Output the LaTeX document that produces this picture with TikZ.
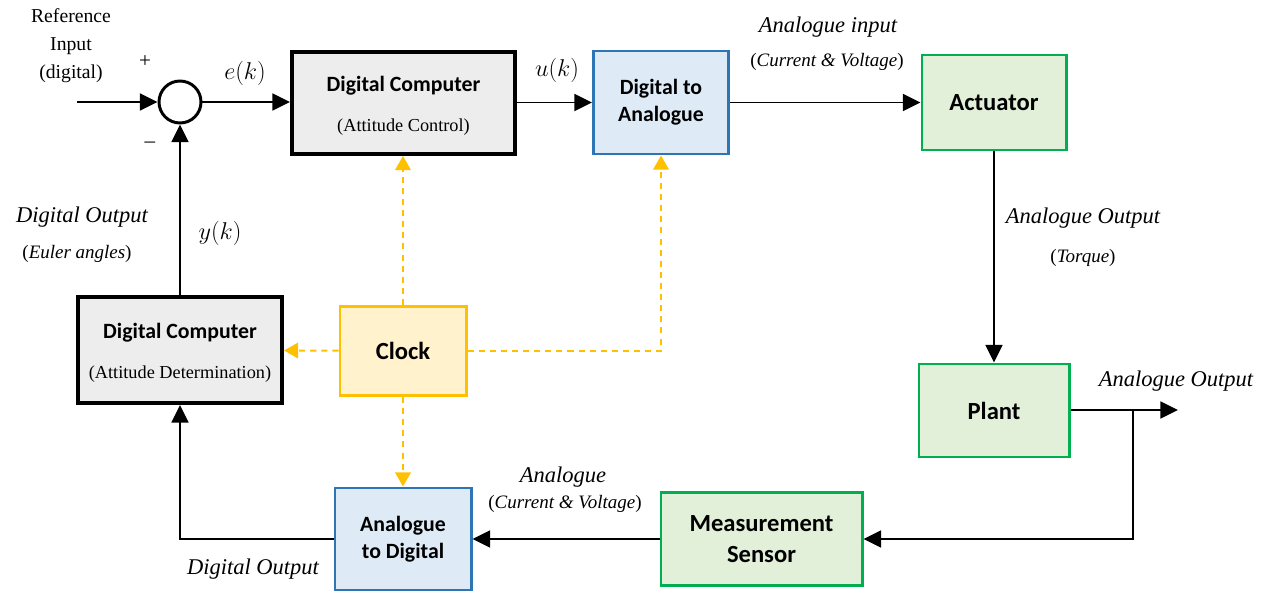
\documentclass[tikz,border=0pt]{standalone}
\usepackage{fontspec}
\setmainfont{Liberation Serif}
\newfontfamily\calfont{Carlito}
\usepackage{xcolor}
\usepackage{tikz}
\usetikzlibrary{shapes,positioning,arrows.meta}
\definecolor{pcfill}{HTML}{EDEDED}
\definecolor{blueline}{HTML}{2E75B6}
\definecolor{bluefill}{HTML}{DEEBF7}
\definecolor{greenline}{HTML}{00B050}
\definecolor{greenfill}{HTML}{E2F0D9}
\definecolor{clkline}{HTML}{FFC000}
\definecolor{clkfill}{HTML}{FFF2CC}
\tikzset{blk/.style={rectangle,draw,align=center,inner sep=0pt,font=\calfont\bfseries\fontsize{15.5}{19}\selectfont},
  pc/.style={blk,fill=pcfill,line width=2.8pt},
  conv/.style={blk,draw=blueline,fill=bluefill,line width=2.1pt},
  phys/.style={blk,draw=greenline,fill=greenfill,line width=2.1pt,font=\calfont\bfseries\fontsize{17.5}{22}\selectfont},
  clk/.style={blk,draw=clkline,fill=clkfill,line width=2.1pt,font=\calfont\bfseries\fontsize{17.5}{22}\selectfont},
  sum/.style={circle,draw,line width=2.1pt,minimum size=1.05cm,inner sep=0pt},
  lbl/.style={inner sep=1pt,align=center,font=\fontsize{16}{19}\selectfont\itshape},
  sml/.style={inner sep=1pt,align=center,font=\fontsize{13.5}{16}\selectfont},
  arr/.style={-{Triangle[length=12.5pt,width=12pt]},line width=1.42pt},
  clkarr/.style={-{Triangle[length=10pt,width=11pt]},draw=clkline,line width=1.42pt,dash pattern=on 4.3pt off 3.6pt}}
\newcommand{\subtxt}[1]{{\normalfont\fontsize{13}{16}\selectfont #1}}

\begin{document}
\begin{tikzpicture}[x=0.025cm,y=-0.025cm]
    \useasboundingbox (0,0) rectangle (1266,591);

    \node[sum] (sum) at (180,102) {};
    \node[pc,minimum width=5.575cm,minimum height=2.55cm] (dcc) at (403.5,103) {\rule{0pt}{15pt}Digital Computer\\[10pt]\subtxt{(Attitude Control)}};
    \node[conv,minimum width=3.375cm,minimum height=2.575cm] (dta) at (661,102.5) {Digital to\\Analogue};
    \node[phys,minimum width=3.6cm,minimum height=2.375cm] (act) at (994,102.5) {Actuator};
    \node[phys,minimum width=3.75cm,minimum height=2.325cm] (plant) at (994,410.5) {Plant};
    \node[phys,minimum width=5.025cm,minimum height=2.325cm] (sens) at (761.5,539) {Measurement\\Sensor};
    \node[conv,minimum width=3.4cm,minimum height=2.55cm] (atd) at (403,539) {Analogue\\to Digital};
    \node[pc,minimum width=5.1cm,minimum height=2.65cm] (dcd) at (180,350) {\rule{0pt}{15pt}Digital Computer\\[10pt]\subtxt{(Attitude Determination)}};
    \node[clk,minimum width=3.15cm,minimum height=2.225cm] (clock) at (403,351) {Clock};

    \coordinate (in) at (77,102);
    \coordinate (out) at (1178,410);
    \coordinate (br) at (1133,410);

    % labels
    \node[align=center,font=\fontsize{14}{20}\selectfont] (ref) at (71,46) {Reference\\Input\\(digital)};
    \node[font=\fontsize{15}{16}\selectfont] (plus) at (145,62) {+};
    \node[font=\fontsize{15}{16}\selectfont] (minus) at (150,145) {--};
    \node[font=\fontsize{16}{18}\selectfont] (ek) at (245,73) {$e(k)$};
    \node[font=\fontsize{16}{18}\selectfont] (uk) at (557,70) {$u(k)$};
    \node[font=\fontsize{16}{18}\selectfont] (yk) at (220,233) {$y(k)$};
    \node[lbl] (eulo) at (82,217) {Digital Output};
    \node[sml] (eul) at (77,254) {(\textit{Euler angles})};
    \node[lbl] (ain) at (828,27) {Analogue input};
    \node[sml] (aincv) at (827,62) {(\textit{Current \& Voltage})};
    \node[lbl] (tqo) at (1083,218) {Analogue Output};
    \node[sml] (tq) at (1083,258) {(\textit{Torque})};
    \node[lbl] (pout) at (1176,381) {Analogue Output};
    \node[lbl] (sana) at (563,477) {Analogue};
    \node[sml] (sanacv) at (565,504) {(\textit{Current \& Voltage})};
    \node[lbl] (dout) at (253,569) {Digital Output};

    % signal path
    \draw [arr] (in) to [] (sum);
    \draw [arr] (sum) to [] (sum -| dcc.west);
    \draw [arr] (dcc.east |- dta) to [] (dta);
    \draw [arr] (dta) to [] (act);
    \draw [arr] (act) to [] (plant);
    \draw [arr] (plant.east |- out) to [] (out);
    \draw [arr] (br) |- (sens);
    \draw [arr] (sens) to [] (atd);
    \draw [arr] (atd) -| (dcd);
    \draw [arr] (dcd) to [] (sum);

    % clock lines
    \draw [clkarr] (clock.north) to [] (clock.north |- dcc.south);
    \draw [clkarr] (clock) to [] (dcd);
    \draw [clkarr] (clock) -| (dta);
    \draw [clkarr] (clock) to [] (atd);
\end{tikzpicture}
\end{document}
